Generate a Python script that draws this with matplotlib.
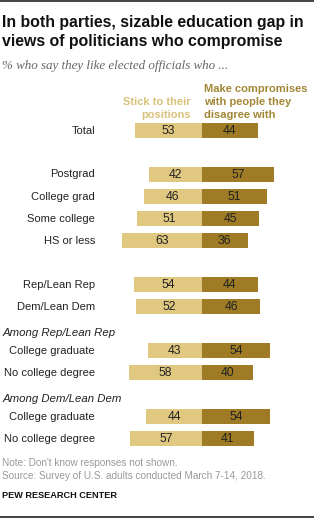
import matplotlib
matplotlib.use("Agg")
import matplotlib.pyplot as plt

labels = ["Total", "Postgrad", "College grad", "Some college", "HS or less",
          "Rep/Lean Rep", "Dem/Lean Dem",
          "College graduate", "No college degree",
          "College graduate", "No college degree"]
stick = [53, 42, 46, 51, 63, 54, 52, 43, 58, 44, 57]
compromise = [44, 57, 51, 45, 36, 44, 46, 54, 40, 54, 41]
groups = ["Among Rep/Lean Rep", "Among Dem/Lean Dem"]

# row slots (22px apart), blank slots between groups
slots = [0, 2, 3, 4, 5, 7, 8, 10, 11, 13, 14]
group_slots = [9, 12]

W, H = 314, 518
LIGHT = "#E1C880"
DARK = "#9E7B24"
FONT = "Liberation Sans"

fig = plt.figure(figsize=(W / 100, H / 100), dpi=100)
ax = fig.add_axes([0, 0, 1, 1])
px = 1.265  # pixels per percentage point
x0 = 202
ax.set_xlim(-x0 / px, (W - x0) / px)
ax.set_ylim(H, 0)
ax.axis("off")

ys = [130.5 + 22 * s for s in slots]
ax.barh(ys, [-v for v in stick], height=15, color=LIGHT, left=0)
ax.barh(ys, compromise, height=15, color=DARK, left=0)

def fx(p):
    return p / W

def fy(p):
    return 1 - p / H

for y, lab, s, c in zip(ys, labels, stick, compromise):
    fig.text(fx(95), fy(y), lab, ha="right", va="center", fontsize=8, family=FONT, color="#222222")
    ax.text(-s / 2, y, str(s), ha="center", va="center", fontsize=8.8, family=FONT, color="#222222")
    ax.text(c / 2, y, str(c), ha="center", va="center", fontsize=8.8, family=FONT, color="#222222")

for g, s in zip(groups, group_slots):
    fig.text(fx(3), fy(130.5 + 22 * s + 4), g, ha="left", va="center", fontsize=8.2,
             family=FONT, style="italic", color="#222222")

# column headers
fig.text(fx(191), fy(108.5), "Stick to their\npositions", ha="right", va="center",
         fontsize=8, family=FONT, weight="bold", color="#D8C27A", linespacing=1.4)
fig.text(fx(204), fy(102), "Make compromises\nwith people they\ndisagree with", ha="left",
         va="center", fontsize=8, family=FONT, weight="bold", color="#A38635", linespacing=1.4)

# title block
fig.text(fx(2), fy(32), "In both parties, sizable education gap in\nviews of politicians who compromise",
         ha="left", va="center", fontsize=11.4, family=FONT, weight="bold", color="#111111",
         linespacing=1.28)
fig.text(fx(2), fy(66), "% who say they like elected officials who ...", ha="left", va="center",
         fontsize=9.4, family="Liberation Serif", style="italic", color="#666666")

fig.text(fx(2), fy(463), "Note: Don't know responses not shown.", ha="left", va="center",
         fontsize=7.2, family=FONT, color="#999999")
fig.text(fx(2), fy(476), "Source: Survey of U.S. adults conducted March 7-14, 2018.", ha="left",
         va="center", fontsize=7.2, family=FONT, color="#999999")
fig.text(fx(2), fy(495), "PEW RESEARCH CENTER", ha="left", va="center", fontsize=6.6,
         family=FONT, weight="bold", color="#111111")

fig.add_artist(plt.Line2D([0, 1], [fy(1), fy(1)], color="#222222", lw=1.2))
fig.add_artist(plt.Line2D([0, 1], [fy(516.5), fy(516.5)], color="#222222", lw=1.2))

fig.savefig("out.png", dpi=100)
